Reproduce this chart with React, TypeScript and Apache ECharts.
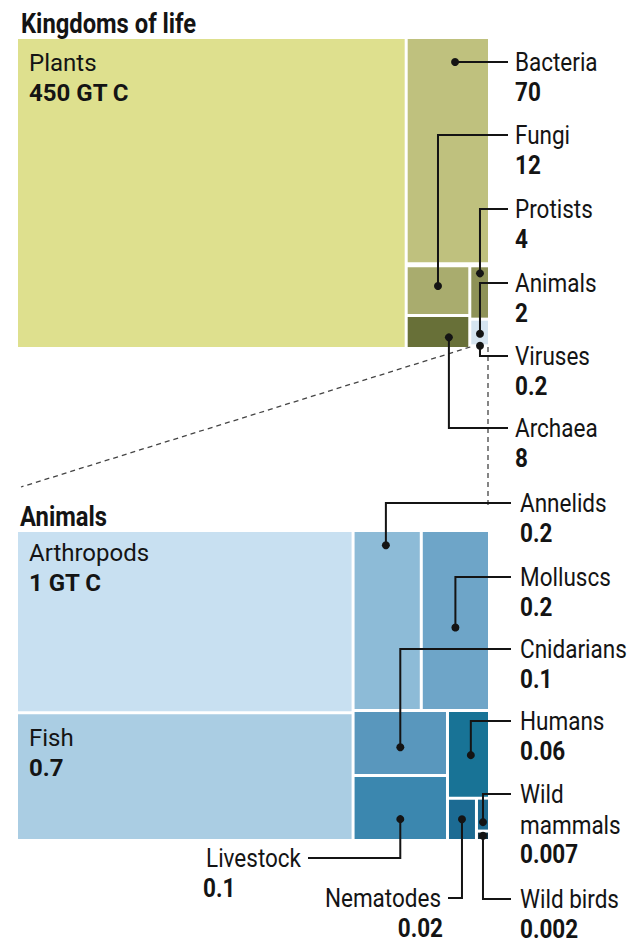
import { useEffect, useRef } from 'react';
import * as echarts from 'echarts';

// ---------- data ----------
const kingdomNames = ['Plants', 'Bacteria', 'Fungi', 'Archaea', 'Protists', 'Animals', 'Viruses'];
const kingdomValues = [450, 70, 12, 8, 4, 2, 0.2];
const kingdomValueLabels = ['450 GT C', '70', '12', '8', '4', '2', '0.2'];
const kingdomColors = ['#dee08e', '#bfc17e', '#a9ac6e', '#687038', '#8e9257', '#d5e4f0', '#d5e4f0'];

const animalNames = ['Arthropods', 'Fish', 'Annelids', 'Molluscs', 'Cnidarians', 'Livestock', 'Humans', 'Nematodes', 'Wild mammals', 'Wild birds'];
const animalValues = [1, 0.7, 0.2, 0.2, 0.1, 0.1, 0.06, 0.02, 0.007, 0.002];
const animalValueLabels = ['1 GT C', '0.7', '0.2', '0.2', '0.1', '0.1', '0.06', '0.02', '0.007', '0.002'];
const animalColors = ['#c8e0f1', '#aacde3', '#8dbbd7', '#6ea5c8', '#5997bd', '#3b87af', '#187396', '#1c6b93', '#1d6a90', '#0f3346'];

// ---------- layout / style constants ----------
const FONT = 'Roboto';
const INK = '#141414';
const BOX1 = { left: 18, top: 39, width: 470, height: 308 };
const BOX2 = { left: 18, top: 532, width: 470, height: 307 };

type Callout = {
  name: string; fx: number; fy: number; row: number;
  lineEnd: number; nameX: number; nameAlign: string; valueX: number; valueAlign: string;
  nameLines?: string[];
};

const kingdomCallouts: Callout[] = [
  { name: 'Bacteria', fx: 0.59, fy: -1, row: 62, lineEnd: 508, nameX: 515, nameAlign: 'left', valueX: 515, valueAlign: 'left' },
  { name: 'Fungi', fx: 0.5, fy: 0.4, row: 135, lineEnd: 508, nameX: 515, nameAlign: 'left', valueX: 515, valueAlign: 'left' },
  { name: 'Protists', fx: 0.52, fy: 0.12, row: 209, lineEnd: 508, nameX: 515, nameAlign: 'left', valueX: 515, valueAlign: 'left' },
  { name: 'Animals', fx: 0.52, fy: 0.55, row: 283, lineEnd: 508, nameX: 515, nameAlign: 'left', valueX: 515, valueAlign: 'left' },
  { name: 'Viruses', fx: 0.52, fy: 0.5, row: 356, lineEnd: 508, nameX: 515, nameAlign: 'left', valueX: 515, valueAlign: 'left' },
  { name: 'Archaea', fx: 0.68, fy: 0.68, row: 428, lineEnd: 508, nameX: 515, nameAlign: 'left', valueX: 515, valueAlign: 'left' },
];

const animalCallouts: Callout[] = [
  { name: 'Annelids', fx: 0.48, fy: 0.075, row: 503, lineEnd: 511, nameX: 520, nameAlign: 'left', valueX: 520, valueAlign: 'left' },
  { name: 'Molluscs', fx: 0.5, fy: 0.54, row: 577, lineEnd: 511, nameX: 520, nameAlign: 'left', valueX: 520, valueAlign: 'left' },
  { name: 'Cnidarians', fx: 0.5, fy: 0.57, row: 649, lineEnd: 511, nameX: 520, nameAlign: 'left', valueX: 520, valueAlign: 'left' },
  { name: 'Humans', fx: 0.56, fy: 0.51, row: 721, lineEnd: 511, nameX: 520, nameAlign: 'left', valueX: 520, valueAlign: 'left' },
  { name: 'Wild mammals', fx: 0.5, fy: 0.75, row: 794, lineEnd: 511, nameX: 520, nameAlign: 'left', valueX: 520, valueAlign: 'left', nameLines: ['Wild', 'mammals'] },
  { name: 'Wild birds', fx: 0.5, fy: 0.5, row: 899, lineEnd: 511, nameX: 520, nameAlign: 'left', valueX: 520, valueAlign: 'left' },
  { name: 'Livestock', fx: 0.5, fy: 0.68, row: 858, lineEnd: 308, nameX: 301, nameAlign: 'right', valueX: 203, valueAlign: 'left' },
  { name: 'Nematodes', fx: 0.5, fy: 0.5, row: 898, lineEnd: 448, nameX: 441, nameAlign: 'right', valueX: 443, valueAlign: 'right' },
];

const rich = {
  n: { fontFamily: FONT, fontSize: 24, color: INK, lineHeight: 30 },
  v: { fontFamily: FONT, fontSize: 24, fontWeight: 'bold', color: INK, lineHeight: 30 },
};

function leaf(names: string[], values: number[], labels: string[], colors: string[], name: string, labelPad?: number) {
  const i = names.indexOf(name);
  const item: any = { name, value: values[i], itemStyle: { color: colors[i] } };
  if (labelPad != null) {
    item.label = {
      show: true, position: 'insideTopLeft', distance: 0, padding: [labelPad, 12, 0, 11],
      formatter: `{n|${name}}\n{v|${labels[i]}}`, rich,
    };
  }
  return item;
}
const kLeaf = (n: string, p?: number) => leaf(kingdomNames, kingdomValues, kingdomValueLabels, kingdomColors, n, p);
const aLeaf = (n: string, p?: number) => leaf(animalNames, animalValues, animalValueLabels, animalColors, n, p);

const kingdomTree = [
  kLeaf('Plants', 9),
  {
    name: 'rest',
    children: [
      kLeaf('Bacteria'),
      {
        name: 'small',
        upperLabel: { show: true, height: 2, formatter: () => '', color: 'rgba(0,0,0,0)' },
        children: ['Fungi', 'Archaea', 'Protists', 'Animals', 'Viruses'].map((n) => kLeaf(n)),
      },
    ],
  },
];

// ECharts orders equal values by descending data index, so tied pairs are listed in reverse here
const animalTree = [
  { name: 'big', children: [aLeaf('Arthropods', 6), aLeaf('Fish', 9)] },
  {
    name: 'others',
    children: [
      ...['Molluscs', 'Annelids', 'Livestock', 'Cnidarians', 'Humans', 'Nematodes'].map((n) => aLeaf(n)),
      { name: 'wild', children: [aLeaf('Wild mammals'), aLeaf('Wild birds')] },
    ],
  },
];

const baseSeries = {
  type: 'treemap', roam: false, nodeClick: false, silent: true,
  breadcrumb: { show: false }, visibleMin: 0,
  itemStyle: { borderWidth: 0, gapWidth: 3, borderColor: '#ffffff' },
  label: { show: false }, upperLabel: { show: false },
  emphasis: { disabled: true },
};

type R = { x: number; y: number; w: number; h: number };
function readRects(chart: any, seriesIndex: number, box: { left: number; top: number }) {
  const series = chart.getModel().getSeriesByIndex(seriesIndex);
  const tree = series.getData().tree;
  const out: Record<string, R> = {};
  tree.root.eachNode((node: any) => {
    const l = node.getLayout();
    if (!l) return;
    let x = box.left;
    let y = box.top;
    let n = node;
    while (n) {
      const nl = n.getLayout();
      if (nl) { x += nl.x || 0; y += nl.y || 0; }
      n = n.parentNode;
    }
    out[node.name] = { x, y, w: l.width || 0, h: l.height || 0 };
  });
  return out;
}

function txt(x: number, y: number, text: string, size: number, bold: boolean, align: string, sx = 0.9) {
  return {
    type: 'text', x, y, z: 20, silent: true, scaleX: sx,
    style: { text, fill: INK, fontFamily: FONT, fontSize: size, fontWeight: bold ? 'bold' : 'normal', textAlign: align, textVerticalAlign: 'middle' },
  };
}

function buildCallouts(rects: Record<string, R>, callouts: Callout[], names: string[], labels: string[]) {
  const els: any[] = [];
  callouts.forEach((c) => {
    const r = rects[c.name];
    if (!r) return;
    const dx = r.x + r.w * c.fx;
    const dy = c.fy < 0 ? c.row : r.y + r.h * c.fy;
    els.push({
      type: 'polyline', z: 18, silent: true,
      shape: { points: [[dx, dy], [dx, c.row], [c.lineEnd, c.row]] },
      style: { stroke: INK, lineWidth: 2, fill: 'none' },
    });
    els.push({ type: 'circle', z: 19, silent: true, shape: { cx: dx, cy: dy, r: 4 }, style: { fill: INK } });
    const lines = c.nameLines || [c.name];
    lines.forEach((t, k) => els.push(txt(c.nameX, c.row + 1 + k * 31, t, 25, false, c.nameAlign)));
    const vi = names.indexOf(c.name);
    els.push(txt(c.valueX, c.row + 1 + lines.length * 30, labels[vi], 25, true, c.valueAlign));
  });
  return els;
}

export default function App() {
  const ref = useRef<HTMLDivElement>(null);
  useEffect(() => {
    const chart = echarts.init(ref.current!, null, { renderer: 'svg' });
    chart.setOption({
      animation: false,
      textStyle: { fontFamily: FONT },
      series: [
        { ...baseSeries, id: 'kingdoms', ...BOX1, data: kingdomTree },
        { ...baseSeries, id: 'animals', ...BOX2, data: animalTree },
      ],
    });
    const r1 = readRects(chart, 0, BOX1);
    const r2 = readRects(chart, 1, BOX2);
    const an = r1['Animals'];
    const graphics: any[] = [
      txt(21, 23, 'Kingdoms of life', 27, true, 'left', 0.88),
      txt(20, 516, 'Animals', 27, true, 'left', 0.88),
      ...buildCallouts(r1, kingdomCallouts, kingdomNames, kingdomValueLabels),
      ...buildCallouts(r2, animalCallouts, animalNames, animalValueLabels),
    ];
    if (an) {
      const bottom = BOX1.top + BOX1.height;
      graphics.push({
        type: 'line', z: 15, silent: true,
        shape: { x1: an.x - 1, y1: bottom, x2: BOX2.left + 3, y2: BOX2.top - 45 },
        style: { stroke: '#444', lineWidth: 1.3, lineDash: [5, 4] },
      });
      graphics.push({
        type: 'line', z: 15, silent: true,
        shape: { x1: an.x + an.w, y1: bottom, x2: an.x + an.w, y2: BOX2.top - 25 },
        style: { stroke: '#444', lineWidth: 1.3, lineDash: [5, 4] },
      });
    }
    chart.setOption({ graphic: graphics });
    return () => chart.dispose();
  }, []);
  return <div ref={ref} style={{ position: 'absolute', left: 0, top: 0, width: 640, height: 950, background: '#fff' }} />;
}
